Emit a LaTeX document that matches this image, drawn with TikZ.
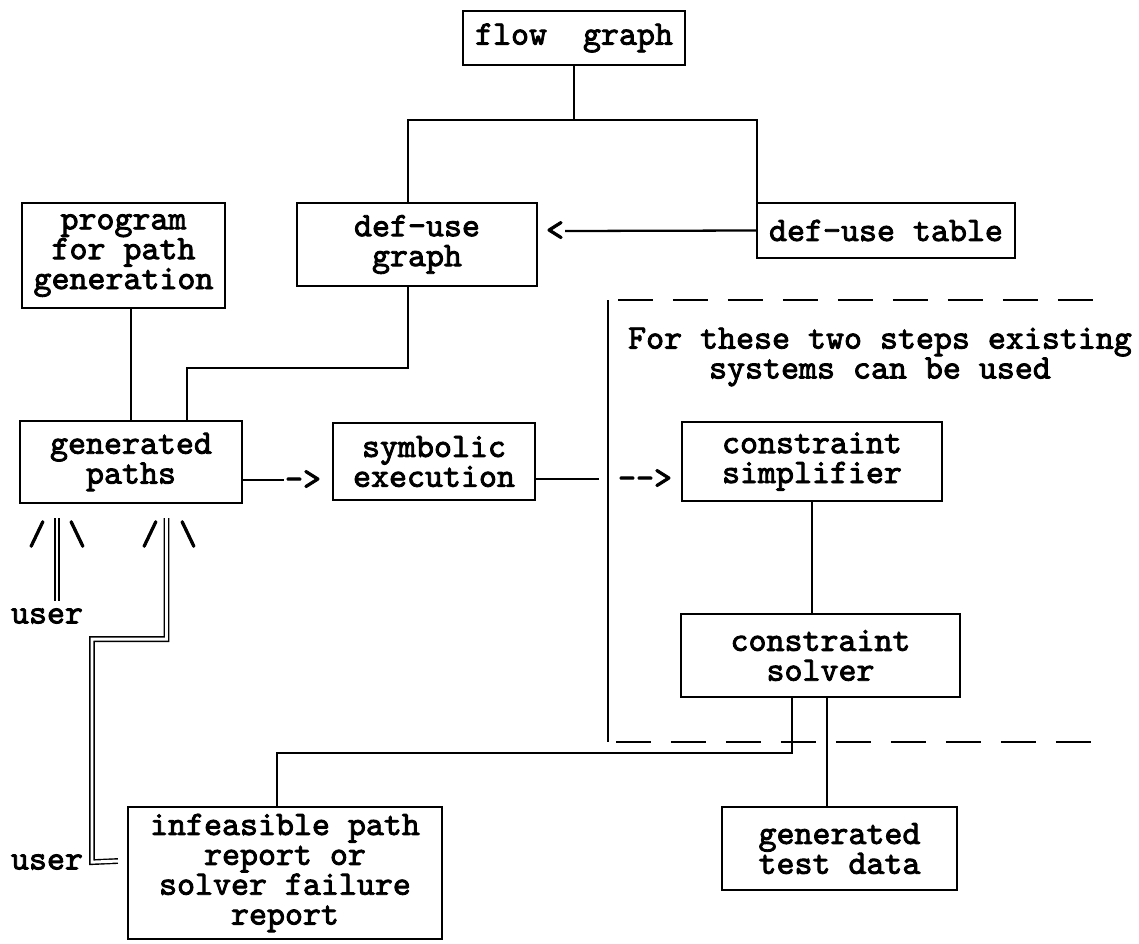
\documentclass[tikz,border=0pt]{standalone}
\usepackage{fontspec}
\newfontfamily\typer{lmmono10-regular.otf}[FakeBold=2.5]
\usetikzlibrary{calc}

\begin{document}
\begin{tikzpicture}[
    x=0.02cm, y=-0.02cm,
    line width=1.3pt,
    font=\typer\fontsize{19.5}{17}\selectfont,
    box/.style={draw, align=center, inner sep=2pt},
    glyph/.style={inner sep=0pt},
    dbl/.style={double, double distance=1.7pt, line width=0.8pt},
    frame/.style={dash pattern=on 0.7cm off 0.4cm}
  ]
  \useasboundingbox (0,0) rectangle (1139,943);

  \node[box, minimum width=4.44cm, minimum height=1.08cm] (flow) at (574,38) {flow\ \ graph};
  \node[box, minimum width=4.06cm, minimum height=2.10cm] (prog) at (123.5,255.5) {program\\for path\\generation};
  \node[box, minimum width=4.80cm, minimum height=1.66cm] (dug) at (417,244.5) {def-use\\graph};
  \node[box, minimum width=5.16cm, minimum height=1.10cm] (tbl) at (886,230.5) {def-use table};
  \node[box, minimum width=4.44cm, minimum height=1.64cm] (gp) at (131,462) {generated\\paths};
  \node[box, minimum width=4.04cm, minimum height=1.54cm] (sym) at (434,461.5) {symbolic\\execution};
  \node[box, minimum width=5.20cm, minimum height=1.58cm] (simp) at (812,461.5) {constraint\\simplifier};
  \node[box, minimum width=5.58cm, minimum height=1.66cm] (solv) at (820.5,655.5) {constraint\\solver};
  \node[box, minimum width=4.70cm, minimum height=1.66cm] (td) at (839.5,848.5) {generated\\test data};
  \node[box, minimum width=6.28cm, minimum height=2.64cm] (inf) at (285,873) {infeasible path\\report or\\solver failure\\report};

  \node[align=center, inner sep=0pt] (note) at (880,357) {For these two steps existing\\systems can be used};

  % typed arrow heads and marks
  \node[glyph] (back) at (555,231) {<};
  \node[glyph] (fwd1) at (303,480) {-\kern0pt>};
  \node[glyph] (fwd2) at (645,479) {-\kern0pt-\kern0pt>};
  \node[glyph] (sla) at (37,534) {/};
  \node[glyph] (bsa) at (77,534) {\textbackslash};
  \node[glyph] (slb) at (150,534) {/};
  \node[glyph] (bsb) at (188,534) {\textbackslash};
  \node[glyph] (user1) at (47,616) {user};
  \node[glyph] (user2) at (47,862) {user};

  \draw (flow.south) -- ++(0,54) coordinate (split);
  \draw ($(dug.north)+(-9,0)$) |- (split) -| ($(tbl.north west)+(1,0)$);
  \draw (tbl.west) -- (back.east);
  \draw (gp.north |- prog.south) -- (gp.north);
  \draw ($(dug.south)+(-9,0)$) -- ++(0,81) -| ($(gp.north)+(56,0)$);
  \draw ($(gp.east)+(0,18)$) -- (fwd1.west);
  \draw ($(sym.east)+(0,17.5)$) -- ++(63,0);

  % frame round the two steps
  \draw (608,300) -- (608,742);
  \draw[frame] (618,300) -- (1099,300);
  \draw[frame] (616,742) -- (1099,742);

  \draw (simp.south) -- (simp.south |- solv.north);
  \draw ($(solv.south)+(-28.5,0)$) -- ++(0,55) -| ($(inf.north)+(-8,0)$);
  \draw ($(solv.south)+(6.5,0)$) -- ++(0,110);

  % user input
  \draw[dbl] ($(gp.south)+(-74,14)$) -- ($(user1.north)+(10,-6)$);
  \draw[dbl] ($(gp.south)+(35.5,14)$) -- ++(0,121) -| ++(-74.5,223) -- ($(inf.west)+(-9,-12)$);
\end{tikzpicture}
\end{document}
